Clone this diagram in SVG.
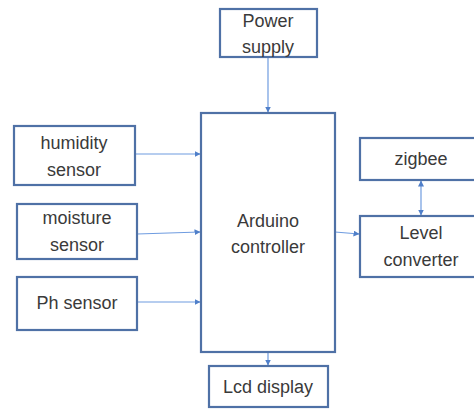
<svg xmlns="http://www.w3.org/2000/svg" width="474" height="409" viewBox="0 0 474 409">
<defs>
<style>
.box{fill:#fff;stroke:#4f71a6;stroke-width:2.2}
.lbl{font-family:"Liberation Sans",Arial,sans-serif;font-size:18px;fill:#3a3a3a;text-anchor:middle}
.con{stroke:#6f9ce0;stroke-width:1.2;fill:none}
</style>
<marker id="ah" viewBox="0 0 6 6" refX="5.5" refY="3" markerWidth="6" markerHeight="6" orient="auto-start-reverse" markerUnits="userSpaceOnUse">
<path d="M0,0 L6,3 L0,6 z" fill="#4f7fc9"/>
</marker>
</defs>
<rect width="474" height="409" fill="#fff"/>
<g id="connectors">
<line class="con" x1="268" y1="57" x2="268" y2="112" marker-end="url(#ah)"/>
<line class="con" x1="135" y1="154" x2="200" y2="154" marker-end="url(#ah)"/>
<line class="con" x1="137" y1="234" x2="200" y2="232" marker-end="url(#ah)"/>
<line class="con" x1="137" y1="302" x2="200" y2="302" marker-end="url(#ah)"/>
<line class="con" x1="335" y1="232" x2="359" y2="234" marker-end="url(#ah)"/>
<line class="con" x1="421" y1="181" x2="421" y2="215" marker-start="url(#ah)" marker-end="url(#ah)"/>
<line class="con" x1="268" y1="353" x2="268" y2="365" marker-end="url(#ah)"/>
</g>
<g id="power">
<rect class="box" x="220" y="9" width="97" height="48"/>
<text class="lbl" x="268" y="27">Power</text>
<text class="lbl" x="268" y="53">supply</text>
</g>
<g id="arduino">
<rect class="box" x="201" y="113" width="134" height="239"/>
<text class="lbl" x="268" y="227">Arduino</text>
<text class="lbl" x="268" y="253">controller</text>
</g>
<g id="humidity">
<rect class="box" x="14" y="126" width="121" height="59"/>
<text class="lbl" x="74" y="149">humidity</text>
<text class="lbl" x="74" y="176">sensor</text>
</g>
<g id="moisture">
<rect class="box" x="17" y="204" width="120" height="55"/>
<text class="lbl" x="77" y="224">moisture</text>
<text class="lbl" x="77" y="251">sensor</text>
</g>
<g id="ph">
<rect class="box" x="17" y="277" width="120" height="53"/>
<text class="lbl" x="77" y="309">Ph sensor</text>
</g>
<g id="zigbee">
<rect class="box" x="360" y="138" width="130" height="42"/>
<text class="lbl" x="421" y="165">zigbee</text>
</g>
<g id="level">
<rect class="box" x="360" y="216" width="130" height="61"/>
<text class="lbl" x="421" y="239">Level</text>
<text class="lbl" x="421" y="266">converter</text>
</g>
<g id="lcd">
<rect class="box" x="209" y="366" width="119" height="41"/>
<text class="lbl" x="268" y="393">Lcd display</text>
</g>
</svg>
